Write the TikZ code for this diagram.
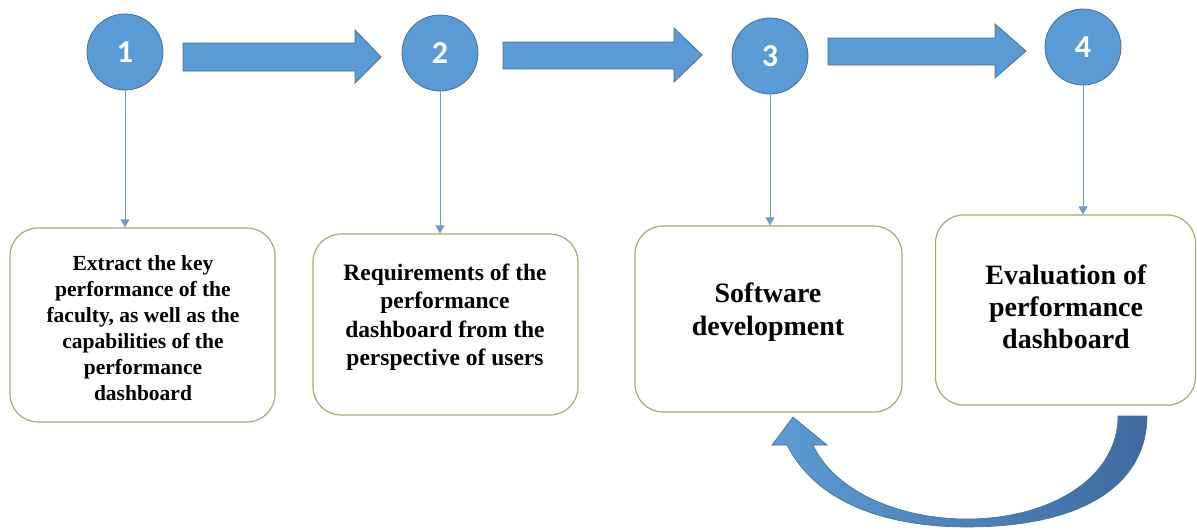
\documentclass[tikz,border=0pt]{standalone}
\usepackage{fontspec}
\setmainfont{Liberation Serif}[BoldFont={Liberation Serif Bold}]
\newfontfamily\stagefont{Liberation Serif Bold}
\newfontfamily\numfont{Carlito}[BoldFont={Carlito Bold}]
\newcommand{\stepnum}[1]{{\numfont\bfseries\fontsize{32}{32}\selectfont #1}}
\usetikzlibrary{arrows.meta}

\definecolor{stepblue}{RGB}{91,155,213}
\definecolor{stepedge}{RGB}{65,113,156}
\definecolor{stepdark}{RGB}{62,106,160}
\definecolor{linkblue}{RGB}{110,155,205}
\definecolor{boxedge}{RGB}{160,172,120}

\tikzset{
  num/.style={circle, minimum size=76pt, inner sep=0pt, fill=stepblue,
    draw=stepedge, line width=0.8pt, text=white},
  blockarrow/.style={fill=stepblue, draw=stepedge, line width=0.8pt},
  link/.style={draw=linkblue, line width=1pt,
    -{Triangle[width=9pt,length=8pt]}},
  stagebox/.style={rectangle, rounded corners=28pt, draw=boxedge,
    line width=1.2pt, fill=white, inner sep=0pt},
  stagetext/.style={align=center, inner sep=0pt}
}

\begin{document}
\begin{tikzpicture}[x=1pt,y=-1pt]
\useasboundingbox (0,0) rectangle (1197,530);

% numbered steps
\node[num] (c1) at (125,52) {\stepnum{1}};
\node[num] (c2) at (440,53) {\stepnum{2}};
\node[num] (c3) at (770,56) {\stepnum{3}};
\node[num] (c4) at (1083,47) {\stepnum{4}};

% block arrows between the steps
\filldraw[blockarrow] (183,43) -- (355,43) -- (355,30) -- (381,57) -- (355,83) -- (355,71) -- (183,71) -- cycle;
\filldraw[blockarrow] (503,42) -- (674,42) -- (674,28) -- (702,55) -- (674,82) -- (674,69) -- (503,69) -- cycle;
\filldraw[blockarrow] (828,38) -- (995,38) -- (995,24) -- (1026,51) -- (995,78) -- (995,65) -- (828,65) -- cycle;

% stage boxes
\node[stagebox, minimum width=265pt, minimum height=194pt] (b1) at (142.5,325) {};
\node[stagebox, minimum width=265pt, minimum height=181pt] (b2) at (445.5,324.5) {};
\node[stagebox, minimum width=267pt, minimum height=186pt] (b3) at (768.5,319) {};
\node[stagebox, minimum width=260pt, minimum height=190pt] (b4) at (1065.5,310) {};

% stage descriptions
\node[stagetext, font=\stagefont\fontsize{21.5}{26}\selectfont] (t1) at (143,328)
  {Extract the key\\performance of the\\faculty, as well as the\\capabilities of the\\performance\\dashboard};
\node[stagetext, font=\stagefont\fontsize{23.5}{28.5}\selectfont] (t2) at (445,317)
  {Requirements of the\\performance\\dashboard from the\\perspective of users};
\node[stagetext, font=\stagefont\fontsize{28}{33}\selectfont] (t3) at (768,312)
  {Software\\development};
\node[stagetext, font=\stagefont\fontsize{28}{32}\selectfont] (t4) at (1066,307)
  {Evaluation of\\performance\\dashboard};

% links from steps to boxes
\draw[link] (c1.south) -- (c1.south |- b1.north);
\draw[link] (c2.south) -- (c2.south |- b2.north);
\draw[link] (c3.south) -- (c3.south |- b3.north);
\draw[link] (c4.south) -- (c4.south |- b4.north);

% curved feedback arrow from evaluation back to development
\shadedraw[left color=stepblue, right color=stepdark, draw=stepedge, line width=0.6pt]
  (787,445) .. controls (820,510) and (900,527) .. (967,527)
  .. controls (1090,527) and (1147,480) .. (1147,416)
  -- (1118,416)
  .. controls (1118,478) and (1050,519) .. (967,519)
  .. controls (900,519) and (835,492) .. (813,445)
  -- (827,445) -- (793,417) -- (772,445) -- cycle;
\end{tikzpicture}
\end{document}
